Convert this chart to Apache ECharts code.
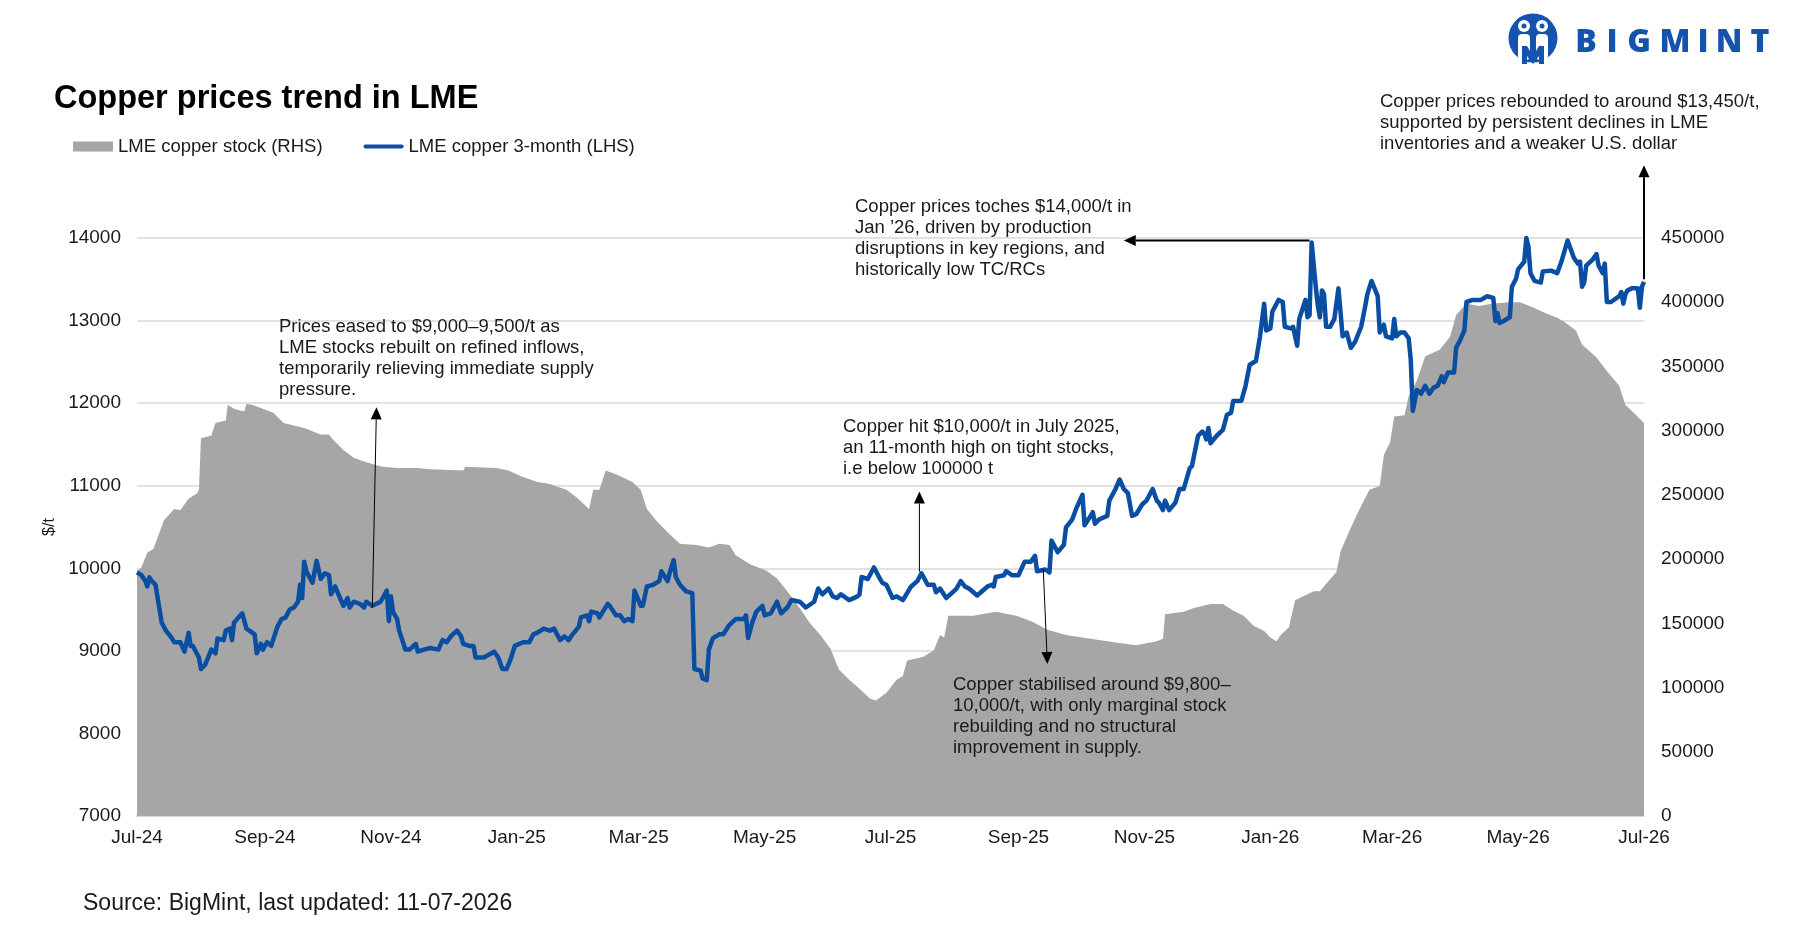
<!DOCTYPE html>
<html>
<head>
<meta charset="utf-8">
<title>Copper prices trend in LME</title>
<script src="https://cdn.jsdelivr.net/npm/echarts@6/dist/echarts.min.js"></script>
<style>
  html, body { margin: 0; padding: 0; background: #fff; }
  #main { width: 1806px; height: 945px; }
</style>
</head>
<body>
<div id="main"></div>
<script>
// LME copper 3-month price ($/t)
var priceDates = [
  '2024-07-01','2024-07-03','2024-07-05','2024-07-06','2024-07-07','2024-07-08','2024-07-10','2024-07-11','2024-07-13','2024-07-15',
  '2024-07-18','2024-07-19','2024-07-22','2024-07-24','2024-07-26','2024-07-27','2024-07-28','2024-07-31','2024-08-01','2024-08-03',
  '2024-08-06','2024-08-08','2024-08-09','2024-08-12','2024-08-13','2024-08-15','2024-08-16','2024-08-17','2024-08-20','2024-08-21',
  '2024-08-23','2024-08-27','2024-08-28','2024-08-30','2024-08-31','2024-09-02','2024-09-04','2024-09-07','2024-09-09','2024-09-11',
  '2024-09-13','2024-09-15','2024-09-17','2024-09-18','2024-09-19','2024-09-20','2024-09-21','2024-09-24','2024-09-26','2024-09-28',
  '2024-09-30','2024-10-02','2024-10-03','2024-10-05','2024-10-07','2024-10-09','2024-10-11','2024-10-12','2024-10-14','2024-10-17',
  '2024-10-19','2024-10-20','2024-10-23','2024-10-27','2024-10-30','2024-10-31','2024-11-01','2024-11-02','2024-11-04','2024-11-05',
  '2024-11-08','2024-11-10','2024-11-13','2024-11-14','2024-11-17','2024-11-20','2024-11-24','2024-11-26','2024-11-28','2024-11-30',
  '2024-12-03','2024-12-05','2024-12-06','2024-12-09','2024-12-11','2024-12-12','2024-12-16','2024-12-21','2024-12-23','2024-12-25',
  '2024-12-27','2024-12-29','2024-12-31',
  '2025-01-04','2025-01-07','2025-01-09','2025-01-11','2025-01-14','2025-01-17','2025-01-19','2025-01-22','2025-01-24','2025-01-26',
  '2025-01-28','2025-01-31','2025-02-01','2025-02-04','2025-02-05','2025-02-06','2025-02-09','2025-02-10','2025-02-14','2025-02-15',
  '2025-02-18','2025-02-20','2025-02-22','2025-02-24','2025-02-26','2025-02-27','2025-03-02','2025-03-03','2025-03-05','2025-03-08',
  '2025-03-11','2025-03-12','2025-03-15','2025-03-16','2025-03-18','2025-03-19','2025-03-21','2025-03-24','2025-03-27','2025-03-28',
  '2025-03-31','2025-04-01','2025-04-03','2025-04-04','2025-04-06','2025-04-09','2025-04-11','2025-04-14','2025-04-17','2025-04-21',
  '2025-04-22','2025-04-23','2025-04-25','2025-04-27','2025-04-30','2025-05-01','2025-05-04','2025-05-07','2025-05-09','2025-05-12',
  '2025-05-14','2025-05-18','2025-05-21','2025-05-25','2025-05-27','2025-05-29','2025-06-01','2025-06-03','2025-06-05','2025-06-07',
  '2025-06-11','2025-06-15','2025-06-16','2025-06-17','2025-06-20','2025-06-23','2025-06-25','2025-06-27','2025-06-29','2025-07-02',
  '2025-07-04','2025-07-07','2025-07-11','2025-07-14','2025-07-16','2025-07-19','2025-07-22','2025-07-23','2025-07-25','2025-07-28',
  '2025-08-01','2025-08-02','2025-08-04','2025-08-06','2025-08-08','2025-08-12','2025-08-17','2025-08-19','2025-08-20','2025-08-21',
  '2025-08-25','2025-08-26','2025-08-29','2025-09-01','2025-09-04','2025-09-07','2025-09-09','2025-09-10','2025-09-14','2025-09-16',
  '2025-09-17','2025-09-20','2025-09-23','2025-09-24','2025-09-27','2025-09-29','2025-10-02','2025-10-03','2025-10-06','2025-10-07',
  '2025-10-08','2025-10-10','2025-10-14','2025-10-15','2025-10-18','2025-10-20','2025-10-22','2025-10-24','2025-10-26','2025-10-28',
  '2025-10-31','2025-11-02','2025-11-05','2025-11-07','2025-11-08','2025-11-10','2025-11-11','2025-11-13','2025-11-16','2025-11-18',
  '2025-11-20','2025-11-23','2025-11-24','2025-11-27','2025-11-29','2025-11-30','2025-12-01','2025-12-02','2025-12-03','2025-12-06',
  '2025-12-09','2025-12-11','2025-12-13','2025-12-14','2025-12-18','2025-12-20','2025-12-22','2025-12-25','2025-12-27','2025-12-29',
  '2025-12-30',
  '2026-01-01','2026-01-02','2026-01-05','2026-01-07','2026-01-08','2026-01-11','2026-01-12','2026-01-14','2026-01-15','2026-01-18',
  '2026-01-19','2026-01-20','2026-01-21','2026-01-23','2026-01-24','2026-01-25','2026-01-26','2026-01-27','2026-01-28','2026-01-30',
  '2026-02-01','2026-02-03','2026-02-05','2026-02-07','2026-02-09','2026-02-11','2026-02-14','2026-02-16','2026-02-17','2026-02-19',
  '2026-02-22','2026-02-23','2026-02-25','2026-02-26','2026-03-01','2026-03-02','2026-03-03','2026-03-05','2026-03-07','2026-03-09',
  '2026-03-10','2026-03-11','2026-03-13','2026-03-15','2026-03-17','2026-03-19','2026-03-21','2026-03-23','2026-03-25','2026-03-26',
  '2026-03-28','2026-03-31','2026-04-01','2026-04-03','2026-04-05','2026-04-06','2026-04-09','2026-04-13','2026-04-16','2026-04-19',
  '2026-04-20','2026-04-21','2026-04-22','2026-04-24','2026-04-27','2026-04-28','2026-04-30','2026-05-01','2026-05-04','2026-05-05',
  '2026-05-06','2026-05-07','2026-05-09','2026-05-12','2026-05-13','2026-05-17','2026-05-20','2026-05-22','2026-05-25','2026-05-26',
  '2026-05-28','2026-05-30','2026-05-31','2026-06-01','2026-06-02','2026-06-03','2026-06-06','2026-06-08','2026-06-09','2026-06-11',
  '2026-06-12','2026-06-13','2026-06-15','2026-06-19','2026-06-20','2026-06-21','2026-06-22','2026-06-23','2026-06-25','2026-06-28',
  '2026-06-29','2026-06-30','2026-07-01'
];
var priceValues = [
  9950,9920,9850,9780,9890,9850,9800,9640,9340,9245,
  9150,9105,9105,8990,9220,9060,9060,8920,8780,8830,
  9015,8970,9150,9130,9245,9270,9130,9340,9430,9455,
  9270,9200,8970,9085,9015,9105,9060,9290,9385,9405,
  9500,9525,9595,9800,9640,10080,9965,9825,10090,9870,
  9940,9915,9685,9780,9660,9545,9640,9525,9595,9570,
  9525,9595,9545,9595,9730,9360,9660,9475,9385,9245,
  9015,9015,9085,8990,9015,9035,9015,9130,9105,9175,
  9245,9175,9085,9060,9060,8920,8920,8990,8920,8780,
  8780,8900,9060,
  9105,9105,9200,9220,9270,9245,9270,9130,9175,9130,
  9200,9290,9405,9430,9360,9475,9455,9405,9570,9545,
  9430,9430,9360,9385,9360,9730,9545,9545,9780,9800,
  9845,9965,9845,9940,10100,9895,9800,9720,9700,8780,
  8760,8665,8645,9015,9155,9200,9200,9315,9385,9385,
  9430,9155,9340,9475,9545,9430,9455,9595,9455,9525,
  9615,9595,9525,9595,9755,9685,9755,9660,9640,9685,
  9615,9660,9685,9895,9870,10010,9915,9825,9800,9640,
  9660,9615,9780,9845,9940,9800,9800,9710,9755,9640,
  9730,9755,9845,9780,9755,9670,9780,9800,9780,9895,
  9915,9965,9915,9915,10080,10080,10150,9965,9985,9950,
  10335,10195,10285,10495,10590,10725,10890,10520,10635,10680,
  10540,10590,10635,10820,10960,11075,10960,10910,10635,10655,
  10775,10820,10960,10820,10795,10705,10820,10705,10795,10960,
  10960,11215,11235,11605,11655,11630,11560,11700,11515,11605,
  11675,11860,11885,12025,12030,12210,12465,12510,12810,13205,
  12880,
  12905,13110,13250,13225,12925,12905,12925,12695,13020,13250,
  13040,13065,13945,13410,13180,13040,13365,13320,12925,12925,
  13020,13390,12810,12855,12670,12740,12925,13180,13320,13480,
  13295,12855,12950,12810,12785,13020,12810,12855,12855,12785,
  12530,11905,12160,12115,12210,12115,12185,12210,12325,12255,
  12370,12370,12670,12765,12880,13225,13250,13250,13295,13275,
  12995,13090,12970,12995,13040,13410,13505,13620,13715,14000,
  13900,13575,13480,13460,13595,13605,13575,13715,13970,13900,
  13760,13690,13715,13410,13460,13665,13735,13805,13665,13575,
  13690,13225,13225,13295,13345,13205,13320,13365,13390,13390,
  13155,13410,13470
];

// LME copper stock (t)
var stockDates = [
  '2024-07-01','2024-07-03','2024-07-06','2024-07-09','2024-07-14','2024-07-19','2024-07-22','2024-07-26','2024-07-30','2024-07-31',
  '2024-08-01','2024-08-06','2024-08-08','2024-08-13','2024-08-14','2024-08-17','2024-08-22','2024-08-23','2024-08-26','2024-08-31',
  '2024-09-05','2024-09-10','2024-09-20','2024-09-28','2024-10-02','2024-10-04','2024-10-09','2024-10-14','2024-10-19','2024-10-25',
  '2024-10-28','2024-11-04','2024-11-14','2024-11-20','2024-12-06','2024-12-07','2024-12-22','2024-12-28',
  '2025-01-03','2025-01-11','2025-01-17','2025-01-25','2025-01-30','2025-02-05','2025-02-07','2025-02-10','2025-02-13','2025-02-18',
  '2025-02-26','2025-03-02','2025-03-05','2025-03-10','2025-03-15','2025-03-21','2025-03-29','2025-04-04','2025-04-09','2025-04-14',
  '2025-04-17','2025-04-24','2025-05-02','2025-05-07','2025-05-12','2025-05-18','2025-05-23','2025-05-28','2025-06-02','2025-06-06',
  '2025-06-11','2025-06-16','2025-06-21','2025-06-24','2025-06-29','2025-07-04','2025-07-07','2025-07-09','2025-07-17','2025-07-22',
  '2025-07-25','2025-07-27','2025-07-29','2025-08-10','2025-08-21','2025-08-31','2025-09-08','2025-09-15','2025-09-24','2025-10-06',
  '2025-10-18','2025-10-28','2025-11-07','2025-11-10','2025-11-11','2025-11-20','2025-11-25','2025-12-03','2025-12-09','2025-12-14',
  '2025-12-19','2025-12-24','2025-12-29',
  '2026-01-01','2026-01-04','2026-01-06','2026-01-10','2026-01-13','2026-01-17','2026-01-22','2026-01-25','2026-01-29','2026-02-02',
  '2026-02-04','2026-02-08','2026-02-12','2026-02-18','2026-02-23','2026-02-25','2026-02-28','2026-03-02','2026-03-07','2026-03-09',
  '2026-03-13','2026-03-17','2026-03-24','2026-03-29','2026-04-01','2026-04-06','2026-04-12','2026-04-19','2026-04-27','2026-05-02',
  '2026-05-08','2026-05-15','2026-05-20','2026-05-24','2026-05-29','2026-06-01','2026-06-08','2026-06-13','2026-06-19','2026-06-22',
  '2026-06-26','2026-07-01'
];
var stockValues = [
  191000,193000,205000,208000,230000,239000,238000,247000,251000,254000,
  294000,296000,306000,308000,320000,317000,315000,321000,320000,317000,
  314000,306000,302000,297000,297000,293000,285000,279000,276000,273000,
  272000,271000,271000,270000,269000,272000,271000,269000,
  264500,260000,258500,254000,248000,239000,254000,254000,269000,266000,
  260000,254000,239000,229000,221000,212000,211000,209000,212000,211000,
  203000,196000,191000,185000,175000,162000,150000,141000,130000,114000,
  106000,99000,91500,90000,96000,106000,109000,121000,124000,129000,
  141000,139000,156000,156000,159000,156000,151000,145000,141000,138000,
  135000,133000,136000,138000,157000,159000,162000,165000,165000,160000,
  156000,148000,144000,
  139000,136000,141000,147000,168000,171000,175000,175000,182500,190000,
  206000,221000,235000,254000,257000,281000,291000,311000,312000,327000,
  339000,358000,363000,373000,390000,399000,397000,399000,400000,400000,
  396000,391000,388000,384000,378000,367000,357000,346500,335000,320000,
  314000,306000
];

var monthNames = ['Jan','Feb','Mar','Apr','May','Jun','Jul','Aug','Sep','Oct','Nov','Dec'];

var FONT = '"Liberation Sans", Arial, sans-serif';
var TXT = '#1a1a1a';

var myChart = echarts.init(document.getElementById('main'));

var option = {
  backgroundColor: '#fff',
  animation: false,
  title: {
    text: 'Copper prices trend in LME',
    left: 54,
    top: 83,
    padding: 0,
    textStyle: { fontFamily: FONT, fontSize: 32.5, fontWeight: 'bold', color: '#000' }
  },
  legend: {
    left: 73,
    top: 137,
    padding: 0,
    itemWidth: 40,
    itemHeight: 10,
    itemGap: 41,
    textStyle: { fontFamily: FONT, fontSize: 18.5, color: TXT },
    data: [
      { name: 'LME copper stock (RHS)', icon: 'rect' },
      // thin bar centred in the 40x10 legend box
      { name: 'LME copper 3-month (LHS)', icon: 'path://M0,0 M2,3 L38,3 A2,2 0 0 1 38,7 L2,7 A2,2 0 0 1 2,3 Z M40,10' }
    ]
  },
  grid: { left: 137, right: 162, top: 238, bottom: 129 },
  xAxis: {
    type: 'time',
    min: '2024-07-01',
    max: '2026-07-01',
    splitNumber: 12,
    minInterval: 61 * 86400000,
    maxInterval: 61 * 86400000,
    axisLine: { show: true, lineStyle: { color: '#d9d9d9', width: 2 } },
    axisTick: { show: false },
    splitLine: { show: false },
    axisLabel: {
      margin: 12,
      fontFamily: FONT, fontSize: 19, color: TXT,
      hideOverlap: false,
      formatter: function (val) {
        var d = new Date(val);
        return monthNames[d.getMonth()] + '-' + String(d.getFullYear()).slice(2);
      }
    }
  },
  yAxis: [
    {
      type: 'value',
      min: 7000, max: 14000, interval: 1000,
      name: '$/t',
      nameLocation: 'middle',
      nameGap: 66,
      nameTextStyle: { fontFamily: FONT, fontSize: 16, color: TXT },
      axisLine: { show: false },
      axisTick: { show: false },
      splitLine: { lineStyle: { color: '#d9d9d9', width: 1.5 } },
      axisLabel: { margin: 16, fontFamily: FONT, fontSize: 19, color: TXT, formatter: function (v) { return String(v); } }
    },
    {
      type: 'value',
      min: 0, max: 450000, interval: 50000,
      position: 'right',
      axisLine: { show: false },
      axisTick: { show: false },
      splitLine: { show: false },
      axisLabel: { margin: 17, fontFamily: FONT, fontSize: 19, color: TXT, formatter: function (v) { return String(v); } }
    }
  ],
  series: [
    {
      name: 'LME copper stock (RHS)',
      type: 'line',
      yAxisIndex: 1,
      symbol: 'none',
      color: '#a6a6a6',
      lineStyle: { width: 0 },
      areaStyle: { color: '#a6a6a6', opacity: 1 },
      z: 1,
      data: stockDates.map(function (d, i) { return [d, stockValues[i]]; })
    },
    {
      name: 'LME copper 3-month (LHS)',
      type: 'line',
      yAxisIndex: 0,
      symbol: 'none',
      color: '#0a4ea3',
      lineStyle: { width: 4.5, color: '#0a4ea3', join: 'round' },
      z: 3,
      data: priceDates.map(function (d, i) { return [d, priceValues[i]]; })
    }
  ]
};
myChart.setOption(option);

// annotation arrows, anchored in data space (date, $/t)
var arrows = [
  { from: ['2024-10-23', 9520], to: ['2024-10-25', 11950], width: 1 },
  { from: ['2025-07-15', 9960], to: ['2025-07-15', 10930], width: 1 },
  { from: ['2026-01-20', 13970], to: ['2025-10-22', 13970], width: 2 },
  { from: ['2025-09-13', 9990], to: ['2025-09-15', 8840], width: 1 },
  { from: ['2026-07-01', 13500], to: ['2026-07-01', 14880], width: 2 }
];

var notes = [
  { x: 279, y: 316, text: 'Prices eased to $9,000\u20139,500/t as\nLME stocks rebuilt on refined inflows,\ntemporarily relieving immediate supply\npressure.' },
  { x: 843, y: 416, text: 'Copper hit $10,000/t in July 2025,\nan 11-month high on tight stocks,\ni.e below 100000 t' },
  { x: 855, y: 196, text: 'Copper prices toches $14,000/t in\nJan \u201926, driven by production\ndisruptions in key regions, and\nhistorically low TC/RCs' },
  { x: 953, y: 674, text: 'Copper stabilised around $9,800\u2013\n10,000/t, with only marginal stock\nrebuilding and no structural\nimprovement in supply.' },
  { x: 1380, y: 91, text: 'Copper prices rebounded to around $13,450/t,\nsupported by persistent declines in LME\ninventories and a weaker U.S. dollar' }
];

function toPx(p) {
  return myChart.convertToPixel({ xAxisIndex: 0, yAxisIndex: 0 }, [echarts.time.parse(p[0]).getTime(), p[1]]);
}

var graphics = [];

arrows.forEach(function (a) {
  var p0 = toPx(a.from), p1 = toPx(a.to);
  var dx = p1[0] - p0[0], dy = p1[1] - p0[1];
  var len = Math.sqrt(dx * dx + dy * dy);
  var ux = dx / len, uy = dy / len;
  var head = 12, half = 5.5;
  var bx = p1[0] - ux * head, by = p1[1] - uy * head;
  graphics.push({
    type: 'line', silent: true, z: 10,
    shape: { x1: p0[0], y1: p0[1], x2: bx, y2: by },
    style: { stroke: '#000', lineWidth: a.width }
  });
  graphics.push({
    type: 'polygon', silent: true, z: 10,
    shape: { points: [[p1[0], p1[1]], [bx - uy * half, by + ux * half], [bx + uy * half, by - ux * half]] },
    style: { fill: '#000' }
  });
});

notes.forEach(function (n) {
  graphics.push({
    type: 'text', silent: true, z: 10, x: n.x, y: n.y,
    style: { text: n.text, fontFamily: FONT, fontSize: 18.5, lineHeight: 21, fill: TXT, verticalAlign: 'top' }
  });
});

// source line
graphics.push({
  type: 'text', silent: true, x: 83, y: 904,
  style: { text: 'Source: BigMint, last updated: 11-07-2026', fontFamily: FONT, fontSize: 23, fill: TXT, verticalAlign: 'middle' }
});

// BIGMINT logo
var logoBlue = '#1453ae';
graphics.push({
  type: 'group', silent: true,
  children: [
    { type: 'circle', shape: { cx: 1533, cy: 38, r: 24.5 }, style: { fill: logoBlue } },
    { type: 'circle', shape: { cx: 1524, cy: 26, r: 6 }, style: { fill: '#fff' } },
    { type: 'circle', shape: { cx: 1542, cy: 26, r: 6 }, style: { fill: '#fff' } },
    { type: 'circle', shape: { cx: 1524, cy: 26, r: 2.5 }, style: { fill: logoBlue } },
    { type: 'circle', shape: { cx: 1542, cy: 26, r: 2.5 }, style: { fill: logoBlue } },
    { type: 'rect', shape: { x: 1518, y: 34, width: 12, height: 26, r: 4 }, style: { fill: '#fff' } },
    { type: 'rect', shape: { x: 1536, y: 34, width: 12, height: 26, r: 4 }, style: { fill: '#fff' } },
    { type: 'polygon', shape: { points: [[1522, 46], [1527, 46], [1533, 56], [1539, 46], [1544, 46], [1544, 64], [1539, 64], [1539, 56], [1533, 64], [1527, 56], [1527, 64], [1522, 64]] }, style: { fill: logoBlue } }
  ]
});
var logoLetters = ['B', 'I', 'G', 'M', 'I', 'N', 'T'];
var logoX = [1586, 1612, 1639, 1675, 1703, 1729, 1760];
logoLetters.forEach(function (ch, i) {
  graphics.push({
    type: 'text', silent: true, x: logoX[i], y: 43,
    style: { text: ch, fontFamily: '"Open Sans", "Liberation Sans", sans-serif', fontWeight: 800, fontSize: 32, fill: logoBlue, align: 'center', verticalAlign: 'middle' }
  });
});

myChart.setOption({ graphic: graphics });

window.addEventListener('resize', function () { myChart.resize(); });
</script>
</body>
</html>
